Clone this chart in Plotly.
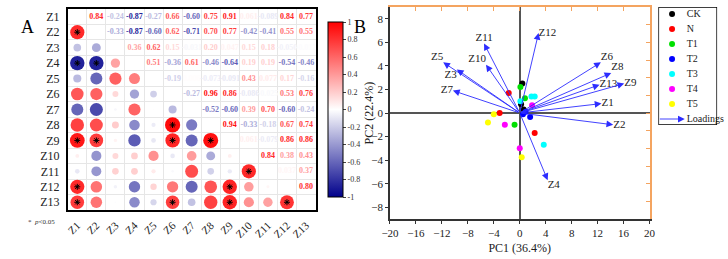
import plotly.graph_objects as go
import numpy as np

W, H = 728, 259
def px(x): return x / W
def py(y): return 1 - y / H

SERIF = "Liberation Serif"

# ---------------- Panel A data: correlation matrix (upper triangle rows) ----------------
variables = [f"Z{i}" for i in range(1, 14)]
r_Z1 = [0.84, -0.24, -0.87, -0.27, 0.66, -0.60, 0.75, 0.91, 0.061, -0.089, 0.84, 0.77]
r_Z2 = [-0.33, -0.87, -0.60, 0.62, -0.71, 0.70, 0.77, -0.42, -0.41, 0.55, 0.55]
r_Z3 = [0.36, 0.62, 0.15, -0.031, 0.20, 0.047, 0.15, 0.18, -0.050, -0.012]
r_Z4 = [0.51, -0.36, 0.61, -0.46, -0.64, 0.19, 0.19, -0.54, -0.46]
r_Z5 = [-0.19, 0.006, -0.073, -0.091, 0.43, 0.077, 0.17, -0.16]
r_Z6 = [-0.27, 0.96, 0.86, -0.086, -0.025, 0.53, 0.76]
r_Z7 = [-0.52, -0.60, 0.39, 0.70, -0.60, -0.24]
r_Z8 = [0.94, -0.33, -0.18, 0.67, 0.74]
r_Z9 = [0.061, -0.079, 0.86, 0.86]
r_Z10 = [0.84, 0.38, 0.43]
r_Z11 = [0.037, 0.37]
r_Z12 = [0.80]
upper_rows = [r_Z1, r_Z2, r_Z3, r_Z4, r_Z5, r_Z6, r_Z7, r_Z8, r_Z9, r_Z10, r_Z11, r_Z12]
sig_threshold = 0.755   # |r| at which p<0.05 in the figure
colorbar_ticks = [1, 0.8, 0.6, 0.4, 0.2, 0, -0.2, -0.4, -0.6, -0.8, -1]

n = len(variables)
R = np.eye(n)
for i, row in enumerate(upper_rows):
    for k, v in enumerate(row):
        j = i + 1 + k
        R[i, j] = v
        R[j, i] = v

# ---------------- Panel B data: PCA ----------------
pc1_label = "PC1 (36.4%)"
pc2_label = "PC2 (22.4%)"
groups = ["CK", "N", "T1", "T2", "T3", "T4", "T5"]
group_colors = ["#000000", "#FF0000", "#00E000", "#0000FF", "#00FFFF", "#FF00FF", "#FFFF00"]
score_x = {
    "CK": [0.4, 0.2, 0.6],
    "N": [-1.7, -3.1, 2.3],
    "T1": [0.1, 0.8, -0.8],
    "T2": [1.6, 0.9, 0.5],
    "T3": [1.8, 2.3, 0.1, 3.7],
    "T4": [1.9, -2.3, 0.0],
    "T5": [-4.0, -4.9, 0.3],
}
score_y = {
    "CK": [2.5, 0.75, 0.3],
    "N": [1.7, 0.0, -1.7],
    "T1": [2.2, 1.25, -1.0],
    "T2": [-0.35, 0.1, -0.1],
    "T3": [1.4, 1.4, 1.0, -2.7],
    "T4": [0.65, -1.0, -3.0],
    "T5": [-0.1, -0.8, -3.75],
}
load_names = ["Z1", "Z2", "Z3", "Z4", "Z5", "Z6", "Z7", "Z8", "Z9", "Z10", "Z11", "Z12", "Z13"]
load_pc1 = [12.6, 14.4, -9.7, 4.3, -11.8, 12.5, -10.3, 14.1, 16.1, -5.2, -5.5, 2.9, 12.3]
load_pc2 = [0.8, -1.0, 3.7, -5.7, 4.3, 4.3, 1.9, 3.4, 2.5, 4.1, 5.9, 6.8, 2.4]
load_label_pos = ["middle right", "middle right", "bottom left", "bottom right", "top left",
                  "top right", "middle left", "top right", "middle right", "top left",
                  "top center", "middle right", "middle right"]

# ---------------- helpers ----------------
def rcolor(v):
    v = max(-1.0, min(1.0, v))
    if v >= 0:
        g = 255 * (1 - v)
        return f"rgb(255,{g:.0f},{g:.0f})"
    t = -v
    c = 255 * (1 - t)
    b = 255 * (1 - t) + 139 * t
    return f"rgb({c:.0f},{c:.0f},{b:.0f})"

def fmt(v):
    return f"{v:.3f}" if abs(v) < 0.1 else f"{v:.2f}"

fig = go.Figure()

ux, uy, ut, uc = [], [], [], []
lx, ly, lv = [], [], []
sx, sy = [], []
for i in range(n):
    for j in range(n):
        if j > i:
            ux.append(j + 1); uy.append(i + 1); ut.append(fmt(R[i, j])); uc.append(rcolor(R[i, j]))
        elif j < i:
            lx.append(j + 1); ly.append(i + 1); lv.append(R[i, j])
            if abs(R[i, j]) >= sig_threshold:
                sx.append(j + 1); sy.append(i + 1)

fig.add_trace(go.Scatter(x=ux, y=uy, mode="text", text=ut,
                         textfont=dict(family=SERIF, size=8, color=uc, weight="bold"),
                         showlegend=False, hoverinfo="skip", xaxis="x", yaxis="y"))

lv = np.array(lv)
fig.add_trace(go.Scatter(
    x=lx, y=ly, mode="markers",
    marker=dict(size=15.5 * np.sqrt(np.abs(lv)), color=lv, cmin=-1, cmax=1,
                colorscale=[[0, "rgb(0,0,139)"], [0.5, "rgb(255,255,255)"], [1, "rgb(255,0,0)"]],
                line=dict(width=0), opacity=1,
                colorbar=dict(x=px(315), xanchor="left", y=py(12), yanchor="top",
                              len=(207 - 12) / H, lenmode="fraction", thickness=15,
                              outlinewidth=1, outlinecolor="black",
                              tickvals=colorbar_ticks, ticktext=[str(t) for t in colorbar_ticks],
                              ticks="outside", ticklen=3, tickcolor="#444",
                              tickfont=dict(family=SERIF, size=8, color="#333"))),
    showlegend=False, hoverinfo="skip", xaxis="x", yaxis="y"))

fig.add_trace(go.Scatter(x=sx, y=sy, mode="markers",
                         marker=dict(symbol="asterisk-open", size=5, color="black",
                                     line=dict(width=1, color="black")),
                         showlegend=False, hoverinfo="skip", xaxis="x", yaxis="y"))

# ---------------- Panel B traces ----------------
for g, c in zip(groups, group_colors):
    fig.add_trace(go.Scatter(x=score_x[g], y=score_y[g], mode="markers", name=g,
                             marker=dict(size=6, color=c), showlegend=False,
                             xaxis="x2", yaxis="y2"))

fig.add_trace(go.Scatter(x=load_pc1, y=load_pc2, mode="text", text=load_names,
                         textposition=load_label_pos, cliponaxis=False,
                         textfont=dict(family=SERIF, size=11, color="#222"),
                         showlegend=False, hoverinfo="skip", xaxis="x2", yaxis="y2"))

fig.add_trace(go.Scatter(x=[0], y=[0], mode="markers", marker=dict(opacity=0),
                         showlegend=False, hoverinfo="skip", xaxis="x3", yaxis="y3"))

# custom legend
fig.add_trace(go.Scatter(x=[14] * len(groups), y=list(range(len(groups))), mode="markers",
                         marker=dict(size=6, color=group_colors), showlegend=False,
                         hoverinfo="skip", xaxis="x4", yaxis="y4", cliponaxis=False))
fig.add_trace(go.Scatter(x=[29] * (len(groups) + 1), y=list(range(len(groups) + 1)), mode="text",
                         text=groups + ["Loadings"], textposition="middle right", cliponaxis=False,
                         textfont=dict(family=SERIF, size=10, color="#222"),
                         showlegend=False, hoverinfo="skip", xaxis="x4", yaxis="y4"))

annotations = []
arrow_color = "rgb(45,45,255)"
for xv, yv in zip(load_pc1, load_pc2):
    annotations.append(dict(x=xv, y=yv, ax=0, ay=0, xref="x2", yref="y2", axref="x2", ayref="y2",
                            text="", showarrow=True, arrowhead=2, arrowsize=1.5, arrowwidth=0.9,
                            arrowcolor=arrow_color))
annotations.append(dict(x=27, y=len(groups), ax=0, ay=len(groups), xref="x4", yref="y4",
                        axref="x4", ayref="y4", text="", showarrow=True, arrowhead=2,
                        arrowsize=1.5, arrowwidth=0.9, arrowcolor=arrow_color))
annotations.append(dict(x=px(10), y=py(15), xref="paper", yref="paper", text="A", showarrow=False,
                        font=dict(family=SERIF, size=18, color="black")))
annotations.append(dict(x=px(358), y=py(15), xref="paper", yref="paper", text="B", showarrow=False,
                        font=dict(family=SERIF, size=18, color="black")))
annotations.append(dict(x=px(17), y=py(228), xref="paper", yref="paper", xanchor="left",
                        text="*  <i>p</i><0.05", showarrow=False,
                        font=dict(family=SERIF, size=7, color="#333")))
annotations.append(dict(x=px(368), y=py(113), xref="paper", yref="paper", text=pc2_label,
                        textangle=-90, showarrow=False,
                        font=dict(family=SERIF, size=12, color="#222")))

shapes = [dict(type="rect", xref="x4", yref="y4", x0=0, x1=60, y0=-0.467, y1=7.4,
               line=dict(color="black", width=1.5), fillcolor="rgba(0,0,0,0)")]

half = [k + 0.5 for k in range(1, n)]
fig.update_layout(
    width=W, height=H, margin=dict(l=0, r=0, t=0, b=0),
    paper_bgcolor="white", plot_bgcolor="white",
    font=dict(family=SERIF, color="#222"),
    xaxis=dict(domain=[px(60), px(313)], range=[0.5, n + 0.5], tickvals=list(range(1, n + 1)),
               ticktext=variables, tickangle=-45, showgrid=False, zeroline=False,
               showline=True, mirror=True, linecolor="black", linewidth=1.5, ticks="",
               tickfont=dict(family=SERIF, size=11, color="#222"), ticklabelstandoff=3,
               minor=dict(tickvals=half, showgrid=True, gridcolor="#e6e6e6", gridwidth=1, ticks=""),
               anchor="y"),
    yaxis=dict(domain=[py(210), py(9)], range=[n + 0.5, 0.5], tickvals=list(range(1, n + 1)),
               ticktext=variables, showgrid=False, zeroline=False,
               showline=True, mirror=True, linecolor="black", linewidth=1.5, ticks="",
               tickfont=dict(family=SERIF, size=12, color="#222"), ticklabelstandoff=4,
               minor=dict(tickvals=half, showgrid=True, gridcolor="#e6e6e6", gridwidth=1, ticks=""),
               anchor="x"),
    xaxis2=dict(domain=[px(389), px(654)], range=[-20, 20], tickvals=list(range(-20, 21, 4)),
                showgrid=False, zeroline=True, zerolinecolor="#555", zerolinewidth=2,
                showline=True, linecolor="#333", linewidth=1.5, ticks="outside", ticklen=3,
                tickcolor="#333", tickfont=dict(family=SERIF, size=11, color="#222"),
                title=dict(text=pc1_label, font=dict(family=SERIF, size=12, color="#222"), standoff=6),
                anchor="y2"),
    yaxis2=dict(domain=[py(219), py(7)], range=[-9, 9], tickvals=list(range(-8, 9, 2)),
                showgrid=False, zeroline=True, zerolinecolor="#555", zerolinewidth=2,
                showline=True, linecolor="#333", linewidth=1.5, ticks="outside", ticklen=3,
                tickcolor="#333", tickfont=dict(family=SERIF, size=11, color="#222"),
                anchor="x2"),
    xaxis3=dict(overlaying="x2", side="top", anchor="y2", range=[-20, 20], dtick=4, tick0=0,
                showgrid=False, zeroline=False, showline=True, linecolor="#F4A460", linewidth=1.5,
                ticks="inside", ticklen=4, tickcolor="#F4A460", showticklabels=False),
    yaxis3=dict(overlaying="y2", side="right", anchor="x2", range=[-9, 9], dtick=1.5, tick0=0,
                showgrid=False, zeroline=False, showline=True, linecolor="#F4A460", linewidth=1.5,
                ticks="inside", ticklen=4, tickcolor="#F4A460", showticklabels=False),
    xaxis4=dict(domain=[px(663), px(723)], range=[0, 60], visible=False, anchor="y4"),
    yaxis4=dict(domain=[py(125), py(7)], range=[7.4, -0.467], visible=False, anchor="x4"),
    annotations=annotations, shapes=shapes,
)

fig.write_html("out.html")
